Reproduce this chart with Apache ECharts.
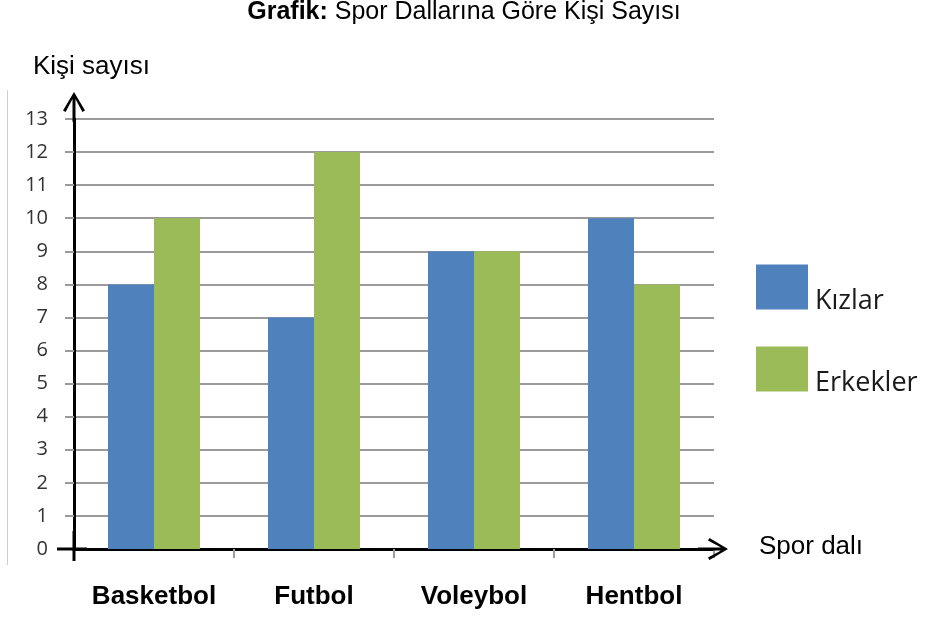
<!DOCTYPE html>
<html>
<head>
<meta charset="utf-8">
<title>Spor Dallarına Göre Kişi Sayısı</title>
<script src="https://cdn.jsdelivr.net/npm/echarts@6/dist/echarts.min.js"></script>
<style>
  html, body { margin: 0; padding: 0; background: #ffffff; }
  #chart { width: 928px; height: 619px; }
</style>
</head>
<body>
<div id="chart"></div>
<script>
// Sport branches and number of people per group
const categories = ['Basketbol', 'Futbol', 'Voleybol', 'Hentbol'];
const kizlar = [8, 7, 9, 10];
const erkekler = [10, 12, 9, 8];
const seriesNames = ['Kızlar', 'Erkekler'];
const yMin = 0;
const yMax = 13;
const yStep = 1;

const BLUE = '#4F81BD';
const GREEN = '#9BBB59';
const GRID_GRAY = '#9a9a9a';

// Open arrow head with a short shaft, pointing up in its own frame
const arrowPath = 'path://M11,0 L22,18.5 L19.4,20 L12.5,7 L12.5,30 L9.5,30 L9.5,7 L2.6,20 L0,18.5 Z';
// Thin stub that lets an axis line run a little past the other axis
const stubPath = 'path://M0,0 L2,0 L2,20 L0,20 Z';

const chart = echarts.init(document.getElementById('chart'), null, { renderer: 'canvas' });

chart.setOption({
  backgroundColor: '#ffffff',
  animation: false,
  title: {
    left: 'center',
    top: -5,
    text: '{b|Grafik:}{n| Spor Dallarına Göre Kişi Sayısı}',
    textStyle: {
      fontFamily: 'Liberation Sans',
      fontSize: 25,
      color: '#000000',
      rich: {
        b: { fontFamily: 'Liberation Sans', fontSize: 25, fontWeight: 'bold', color: '#000000' },
        n: { fontFamily: 'Liberation Sans', fontSize: 25, fontWeight: 'normal', color: '#000000' }
      }
    }
  },
  legend: {
    orient: 'vertical',
    left: 756,
    top: 264.5,
    padding: 0,
    itemWidth: 52,
    itemHeight: 45,
    itemGap: 32,
    icon: 'rect',
    data: seriesNames,
    selectedMode: false,
    formatter: '{t|{name}}',
    textStyle: {
      fontFamily: 'Open Sans',
      fontSize: 27,
      color: '#1a1a1a',
      rich: {
        t: {
          fontFamily: 'Open Sans',
          fontSize: 27,
          color: '#1a1a1a',
          padding: [28, 0, 0, 2]
        }
      }
    }
  },
  grid: {
    left: 74,
    right: 214,
    top: 119,
    bottom: 70,
    containLabel: false
  },
  xAxis: {
    type: 'category',
    data: categories,
    boundaryGap: true,
    axisLine: {
      show: true,
      symbol: [stubPath, arrowPath],
      symbolSize: [22, 30],
      symbolOffset: [-2, -1],
      lineStyle: { color: '#000000', width: 3 }
    },
    axisTick: {
      show: true,
      inside: false,
      interval: 0,
      length: 9,
      lineStyle: { color: GRID_GRAY, width: 2 }
    },
    axisLabel: {
      interval: 0,
      margin: 35,
      fontFamily: 'Liberation Sans',
      fontSize: 26,
      fontWeight: 'bold',
      color: '#000000'
    },
    splitLine: { show: false }
  },
  yAxis: {
    type: 'value',
    min: yMin,
    max: yMax,
    interval: yStep,
    axisLine: {
      show: true,
      symbol: [stubPath, arrowPath],
      symbolSize: [22, 30],
      symbolOffset: [3, 12],
      lineStyle: { color: '#000000', width: 3 }
    },
    axisTick: {
      show: true,
      inside: false,
      length: 9,
      lineStyle: { color: GRID_GRAY, width: 2 }
    },
    axisLabel: {
      margin: 26,
      fontFamily: 'Open Sans',
      fontSize: 20,
      color: '#333333'
    },
    splitLine: {
      show: true,
      lineStyle: { color: GRID_GRAY, width: 2 }
    }
  },
  series: [
    {
      name: seriesNames[0],
      type: 'bar',
      data: kizlar,
      barGap: '0%',
      barCategoryGap: '42.5%',
      itemStyle: { color: BLUE }
    },
    {
      name: seriesNames[1],
      type: 'bar',
      data: erkekler,
      barGap: '0%',
      barCategoryGap: '42.5%',
      itemStyle: { color: GREEN }
    }
  ],
  graphic: [
    {
      type: 'line',
      shape: { x1: 7.5, y1: 90, x2: 7.5, y2: 565 },
      style: { stroke: '#cfcfcf', lineWidth: 1 },
      silent: true
    },
    {
      type: 'text',
      left: 33,
      top: 54,
      style: {
        text: 'Kişi sayısı',
        font: '26px "Liberation Sans"',
        fill: '#000000'
      },
      silent: true
    },
    {
      type: 'text',
      left: 759,
      top: 534,
      style: {
        text: 'Spor dalı',
        font: '26px "Liberation Sans"',
        fill: '#000000'
      },
      silent: true
    }
  ]
});
</script>
</body>
</html>
